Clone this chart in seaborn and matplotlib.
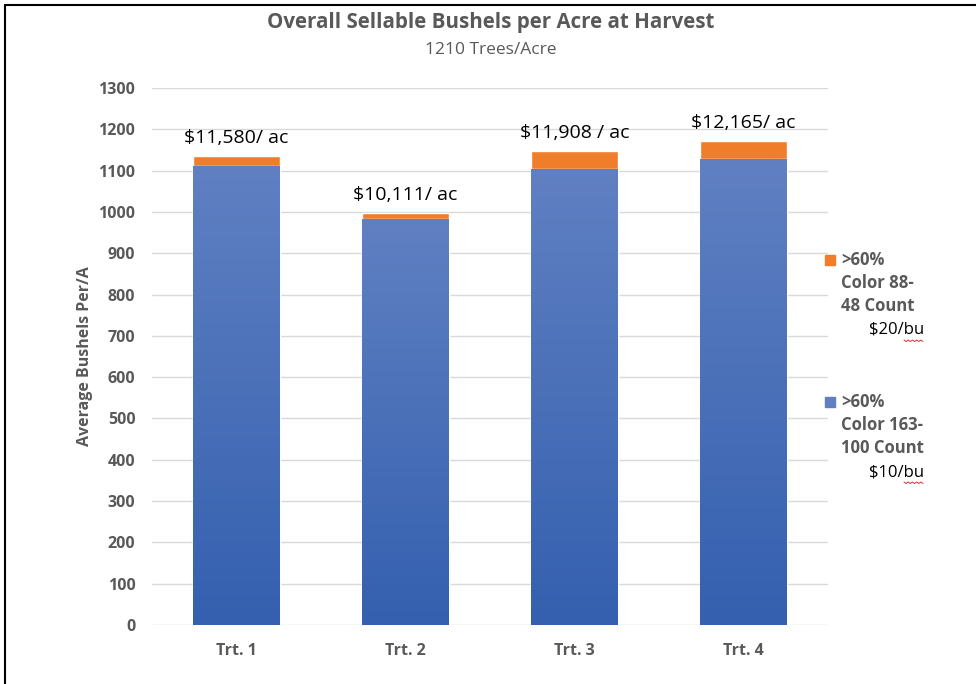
import numpy as np
import pandas as pd
import seaborn as sns
import matplotlib.pyplot as plt
from matplotlib.lines import Line2D
from matplotlib.patches import Rectangle

# Data
treatments = ['Trt. 1', 'Trt. 2', 'Trt. 3', 'Trt. 4']
small_bu = [1112, 983, 1105, 1127]    # >60% color 163-100 count, $10/bu
large_bu = [23, 14, 43, 45]           # >60% color 88-48 count, $20/bu
revenue = ['$11,580/ ac', '$10,111/ ac', '$11,908 / ac', '$12,165/ ac']
yticks = list(range(0, 1301, 100))

df = pd.DataFrame({'trt': treatments, 'small': small_bu, 'large': large_bu})
df['total'] = df['small'] + df['large']

sns.set_style('white')
plt.rcParams['font.family'] = ['Open Sans', 'DejaVu Sans']

gray = '#595959'
blue_top = np.array([0x60, 0x80, 0xC2]) / 255
blue_bot = np.array([0x34, 0x60, 0xAF]) / 255
orange = '#F07D2A'

W, H = 976, 684
fig = plt.figure(figsize=(9.76, 6.84), dpi=100)
ax = fig.add_axes([152 / W, 1 - 625 / H, 676 / W, 537 / H])

# stacked bars: total in orange, small-count portion over it in blue
sns.barplot(data=df, x='trt', y='total', color=orange, width=0.51,
            saturation=1, ax=ax, zorder=2)
sns.barplot(data=df, x='trt', y='small', color=blue_top, width=0.51,
            saturation=1, ax=ax, zorder=3)

# vertical gradient on the blue segments
t = np.linspace(0, 1, 256)[:, None, None]
cols = blue_bot[None, None, :] * (1 - t) + blue_top[None, None, :] * t
cols = np.repeat(cols, 2, axis=1)
for p in ax.patches[len(treatments):]:
    x0, y0 = p.get_x(), p.get_y()
    w, h = p.get_width(), p.get_height()
    im = ax.imshow(cols, extent=[x0, x0 + w, y0, y0 + h], origin='lower',
                   aspect='auto', zorder=3.5)
    im.set_clip_path(p)

ax.set_xlim(-0.5, 3.5)
ax.set_ylim(0, 1300)
ax.set_yticks(yticks)
ax.yaxis.grid(True, color='#D9D9D9', lw=1, zorder=0)
ax.set_axisbelow(True)
for s in ax.spines.values():
    s.set_visible(False)
ax.tick_params(axis='y', length=0, pad=12)
ax.tick_params(axis='x', length=0, pad=13)
for lab in ax.get_yticklabels() + ax.get_xticklabels():
    lab.set_fontweight('bold')
    lab.set_color(gray)
    lab.set_fontsize(11.5)
ax.set_xlabel('')
ax.set_ylabel('Average Bushels Per/A', fontsize=11.5, fontweight='bold',
              color=gray, labelpad=4)

# revenue labels above each bar
for i, txt in enumerate(revenue):
    ax.text(i, df['total'][i] + 22, txt, ha='center', va='bottom',
            fontsize=14, color='black')

fig.text(0.503, 0.967, 'Overall Sellable Bushels per Acre at Harvest',
         ha='center', va='center', fontsize=14.8, fontweight='bold', color=gray)
fig.text(0.503, 0.927, '1210 Trees/Acre', ha='center', va='center',
         fontsize=12.5, color=gray)

# legend drawn by hand to mimic the wrapped entries
legend_items = [(orange, 260, ['>60%', 'Color 88-', '48 Count'], '$20/bu'),
                (blue_top, 402, ['>60%', 'Color 163-', '100 Count'], '$10/bu')]
for color, ypix, lines, price in legend_items:
    fig.patches.append(Rectangle((825 / W, 1 - (ypix + 5) / H), 10 / W, 10 / H,
                                 transform=fig.transFigure, color=color))
    for k, line in enumerate(lines):
        fig.text(841 / W, 1 - (ypix + 23 * k) / H, line, ha='left', va='center',
                 fontsize=12, fontweight='bold', color=gray)
    fig.text(924 / W, 1 - (ypix + 70) / H, price, ha='right', va='center',
             fontsize=12, color='black')
    # red spell-check squiggle under "bu"
    xs = np.linspace(904, 923, 10)
    ys = ypix + 80 + np.where(np.arange(10) % 2 == 0, 0, 1.5)
    fig.add_artist(Line2D(xs / W, 1 - ys / H, transform=fig.transFigure,
                          color='#E03030', lw=0.7))

# outer frame (visible on left and top)
fig.add_artist(Line2D([5 / W, 5 / W], [0, 1 - 5 / H], transform=fig.transFigure,
                      color='black', lw=1.5))
fig.add_artist(Line2D([5 / W, 1], [1 - 5 / H, 1 - 5 / H], transform=fig.transFigure,
                      color='black', lw=1.5))

fig.savefig('out.png', dpi=100)
